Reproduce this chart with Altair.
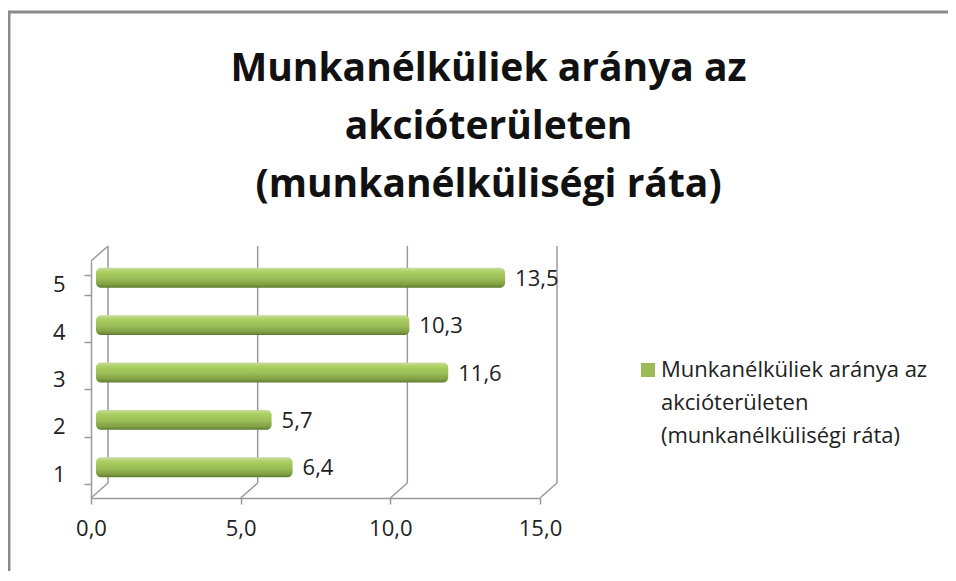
import altair as alt
import pandas as pd

categories = ["1", "2", "3", "4", "5"]
values = [6.4, 5.7, 11.6, 10.3, 13.5]
series_name = "Munkanélküliek aránya az akcióterületen (munkanélküliségi ráta)"
x_ticks = [0, 5, 10, 15]

df = pd.DataFrame({"cat": categories, "val": values, "series": [series_name] * len(values)})
ticks_df = pd.DataFrame({"tick": x_ticks})

FONT = "Open Sans"
W, H = 449, 237
DEPTH_X, DEPTH_Y = 17, 15
LINE = "#9a9a9a"
FS = 22

grad = alt.Gradient(
    gradient="linear",
    stops=[
        alt.GradientStop(color="#c9dca2", offset=0),
        alt.GradientStop(color="#acd062", offset=0.2),
        alt.GradientStop(color="#9bbd57", offset=0.55),
        alt.GradientStop(color="#7f9e42", offset=0.85),
        alt.GradientStop(color="#5c7a2c", offset=1),
    ],
    x1=0, x2=0, y1=0, y2=1,
)

x_scale = alt.Scale(domain=[0, 15], nice=False)
y_scale = alt.Scale(paddingInner=0.58, paddingOuter=0.29)

x_enc = alt.X(
    "val:Q",
    scale=x_scale,
    axis=alt.Axis(
        values=x_ticks,
        labelExpr="replace(format(datum.value, '.1f'), '.', ',')",
        title=None,
        grid=False,
        labelFlush=False,
        domainColor=LINE,
        domainWidth=1.5,
        tickColor=LINE,
        tickWidth=1.5,
        tickSize=6,
        labelPadding=14,
        labelFontSize=FS,
        labelColor="#222222",
        labelFont=FONT,
    ),
)
y_enc = alt.Y(
    "cat:N",
    sort="descending",
    scale=y_scale,
    axis=alt.Axis(
        title=None,
        domainColor=LINE,
        domainWidth=1.5,
        tickColor=LINE,
        tickWidth=1.5,
        tickSize=7,
        tickBand="extent",
        labelPadding=19,
        labelFontSize=FS,
        labelColor="#222222",
        labelFont=FONT,
    ),
)

# back wall gridlines
grid = alt.Chart(ticks_df).mark_rule(color=LINE, strokeWidth=1.5, xOffset=DEPTH_X).encode(
    x=alt.X("tick:Q", scale=x_scale),
    y=alt.value(-DEPTH_Y),
    y2=alt.value(H - DEPTH_Y),
)
# floor diagonals
floor = alt.Chart(ticks_df).mark_rule(color=LINE, strokeWidth=1.5, x2Offset=DEPTH_X).encode(
    x=alt.X("tick:Q", scale=x_scale),
    x2="tick:Q",
    y=alt.value(H),
    y2=alt.value(H - DEPTH_Y),
)
# top-left wall diagonal
wall_top = alt.Chart(ticks_df).transform_filter("datum.tick == 0").mark_rule(
    color=LINE, strokeWidth=1.5, x2Offset=DEPTH_X
).encode(
    x=alt.X("tick:Q", scale=x_scale),
    x2="tick:Q",
    y=alt.value(0),
    y2=alt.value(-DEPTH_Y),
)

bars = alt.Chart(df).mark_bar(
    color=grad, cornerRadiusEnd=5, xOffset=10, x2Offset=5, yOffset=-7, y2Offset=-7
).encode(
    x=x_enc,
    x2=alt.datum(0),
    y=y_enc,
)

legend_layer = alt.Chart(df).mark_point(opacity=0, filled=True).encode(
    x="val:Q",
    y=alt.Y("cat:N", sort="descending"),
    fill=alt.Fill(
        "series:N",
        scale=alt.Scale(range=["#9bbb59"]),
        legend=alt.Legend(
            title=None,
            orient="none",
            legendX=546,
            legendY=88,
            symbolType="M-1,0.43H1V2.43H-1Z",
            symbolSize=196,
            symbolOpacity=1,
            symbolStrokeWidth=0,
            labelFontSize=FS,
            labelFont=FONT,
            labelColor="#222222",
            labelLimit=400,
            labelOffset=2,
            labelExpr="['Munkanélküliek aránya az', 'akcióterületen', '(munkanélküliségi ráta)']",
            labelBaseline="top",
        ),
    ),
)

labels = alt.Chart(df).transform_calculate(
    lbl="replace(format(datum.val, '.1f'), '.', ',')"
).mark_text(align="left", dx=20, dy=-6, fontSize=FS, font=FONT, color="#222222").encode(
    x="val:Q", y=alt.Y("cat:N", sort="descending"), text="lbl:N"
)

border_top = alt.Chart(ticks_df).transform_filter("datum.tick == 0").mark_rule(
    color="#8a8a8a", strokeWidth=3
).encode(x=alt.value(-83), x2=alt.value(870), y=alt.value(-249))
border_left = alt.Chart(ticks_df).transform_filter("datum.tick == 0").mark_rule(
    color="#8a8a8a", strokeWidth=3
).encode(x=alt.value(-82), y=alt.value(-249), y2=alt.value(330))

chart = alt.layer(
    grid, floor, wall_top, bars, labels, legend_layer, border_top, border_left
).properties(
    width=W,
    height=H,
    autosize=alt.AutoSizeParams(type="none"),
    padding={"left": 83, "top": 253, "right": 408, "bottom": 73},
    title=alt.TitleParams(
        text=["Munkanélküliek aránya az", "akcióterületen", "(munkanélküliségi ráta)"],
        fontSize=39,
        font=FONT,
        fontWeight="bold",
        color="#111111",
        lineHeight=58,
        anchor="middle",
        frame="group",
        dx=173,
        offset=-194,
    ),
).configure(style={"guide-label": {"lineHeight": 33}}).configure_view(stroke=None)

chart.save("out.html", embed_options={"renderer": "svg", "actions": False})
